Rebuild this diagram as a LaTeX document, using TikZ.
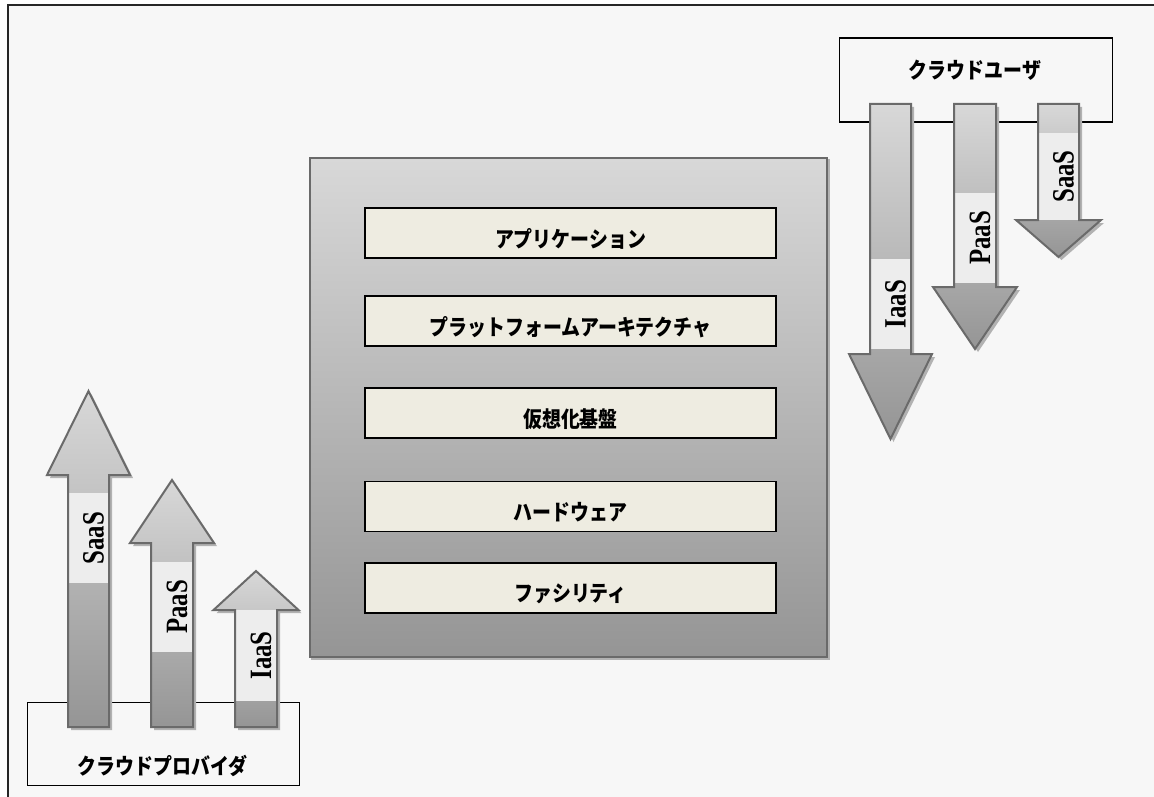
\documentclass[tikz,border=0pt]{standalone}
\usepackage{fontspec}
\usepackage{graphicx}
\setmainfont{Liberation Serif}
\newfontfamily\jp{Noto Sans CJK JP}
\definecolor{bgc}{HTML}{F7F7F7}
\definecolor{atop}{HTML}{D8D8D8}
\definecolor{abot}{HTML}{959595}
\definecolor{edgec}{HTML}{6A6A6A}
\definecolor{bandc}{HTML}{EDEDED}
\definecolor{shadowc}{HTML}{B2B2B2}
\definecolor{layerc}{HTML}{EEECE1}
\newcommand\jpt[1]{\scalebox{0.86}[1]{#1}}
\tikzset{
  arrshadow/.style={fill=shadowc},
  arredge/.style={draw=edgec,line width=2pt,line join=miter},
  bandfill/.style={fill=bandc},
  svclabel/.style={rotate=90,inner sep=0pt,font=\fontsize{31}{31}\selectfont\bfseries},
  layerbox/.style={draw=black,line width=1.8pt,fill=layerc,minimum width=411pt,minimum height=50pt,inner sep=0pt},
  layertext/.style={inner sep=0pt,font=\jp\bfseries\fontsize{22}{22}\selectfont},
  actorbox/.style={draw=black,line width=1.5pt,fill=bgc},
}
% up arrow: cx sw hw tip headbase bottom bandtop bandbottom label
\newcommand\UpArr[9]{%
  \begin{scope}[shift={(3,3)}]
    \fill[arrshadow] (#1-#2,#6) -- (#1-#2,#5) -- (#1-#3,#5) -- (#1,#4) -- (#1+#3,#5) -- (#1+#2,#5) -- (#1+#2,#6) -- cycle;
  \end{scope}
  \shade[top color=atop,bottom color=abot] (#1-#2,#6) -- (#1-#2,#5) -- (#1-#3,#5) -- (#1,#4) -- (#1+#3,#5) -- (#1+#2,#5) -- (#1+#2,#6) -- cycle;
  \fill[bandfill] (#1-#2+1,#7) rectangle (#1+#2-1,#8);
  \draw[arredge] (#1-#2,#6) -- (#1-#2,#5) -- (#1-#3,#5) -- (#1,#4) -- (#1+#3,#5) -- (#1+#2,#5) -- (#1+#2,#6) -- cycle;
  \node[svclabel] (up#9) at (#1+5,{(#7+#8)/2}) {\scalebox{0.8}[1]{#9}};
}
% down arrow: cx sw hw top headbase tip bandtop bandbottom label
\newcommand\DownArr[9]{%
  \begin{scope}[shift={(3,3)}]
    \fill[arrshadow] (#1-#2,#4) -- (#1-#2,#5) -- (#1-#3,#5) -- (#1,#6) -- (#1+#3,#5) -- (#1+#2,#5) -- (#1+#2,#4) -- cycle;
  \end{scope}
  \shade[top color=atop,bottom color=abot] (#1-#2,#4) -- (#1-#2,#5) -- (#1-#3,#5) -- (#1,#6) -- (#1+#3,#5) -- (#1+#2,#5) -- (#1+#2,#4) -- cycle;
  \fill[bandfill] (#1-#2+1,#7) rectangle (#1+#2-1,#8);
  \draw[arredge] (#1-#2,#4) -- (#1-#2,#5) -- (#1-#3,#5) -- (#1,#6) -- (#1+#3,#5) -- (#1+#2,#5) -- (#1+#2,#4) -- cycle;
  \node[svclabel] (down#9) at (#1+5,{(#7+#8)/2}) {\scalebox{0.8}[1]{#9}};
}
\begin{document}
\begin{tikzpicture}[x=1pt,y=-1pt]
\useasboundingbox (0,0) rectangle (1154,797);
\fill[white] (0,0) rectangle (1154,797);
\fill[bgc] (8,5) rectangle (1154,797);
\draw[line width=1.6pt,black!85] (8,797) -- (8,5) -- (1154,5);

% actor boxes
\node[actorbox,minimum width=272pt,minimum height=83pt,anchor=north west] (provider) at (26.5,701.5) {};
\node[layertext] (providertext) at (162.5,766) {\jpt{クラウドプロバイダ}};
\node[actorbox,minimum width=273pt,minimum height=84pt,anchor=north west] (user) at (838.5,37.5) {};
\node[layertext] (usertext) at (975,70) {\jpt{クラウドユーザ}};

% provider arrows (up)
\UpArr{88.5}{20.5}{41.5}{391}{475}{727}{493}{583}{SaaS}
\UpArr{172}{21}{42}{480}{543}{727}{562}{652}{PaaS}
\UpArr{256}{21}{42.5}{571}{610}{727}{610}{701}{IaaS}

% user arrows (down)
\DownArr{890.5}{20.5}{41.5}{104}{354}{439}{259}{349}{IaaS}
\DownArr{975}{21}{42}{104}{287}{349}{193}{283}{PaaS}
\DownArr{1058.5}{20.5}{42.5}{104}{220}{257}{133}{220}{SaaS}

% platform box
\fill[shadowc] (311,159) rectangle (830,660);
\node[draw=edgec,line width=2pt,top color=atop,bottom color=abot,minimum width=517pt,minimum height=499pt,inner sep=0pt,anchor=north west] (platform) at (309,157) {};

\node[layerbox] (app) at (570.5,233) {};
\node[layertext] (apptext) at ([yshift=-6pt]app.center) {\jpt{アプリケーション}};
\node[layerbox] (arch) at (570.5,321) {};
\node[layertext] (archtext) at ([yshift=-6pt]arch.center) {\jpt{プラットフォームアーキテクチャ}};
\node[layerbox] (virt) at (570.5,413) {};
\node[layertext] (virttext) at ([yshift=-6pt]virt.center) {\jpt{仮想化基盤}};
\node[layerbox] (hw) at (570.5,506.5) {};
\node[layertext] (hwtext) at ([yshift=-6pt]hw.center) {\jpt{ハードウェア}};
\node[layerbox] (fac) at (570.5,588) {};
\node[layertext] (factext) at ([yshift=-6pt]fac.center) {\jpt{ファシリティ}};
\end{tikzpicture}
\end{document}
